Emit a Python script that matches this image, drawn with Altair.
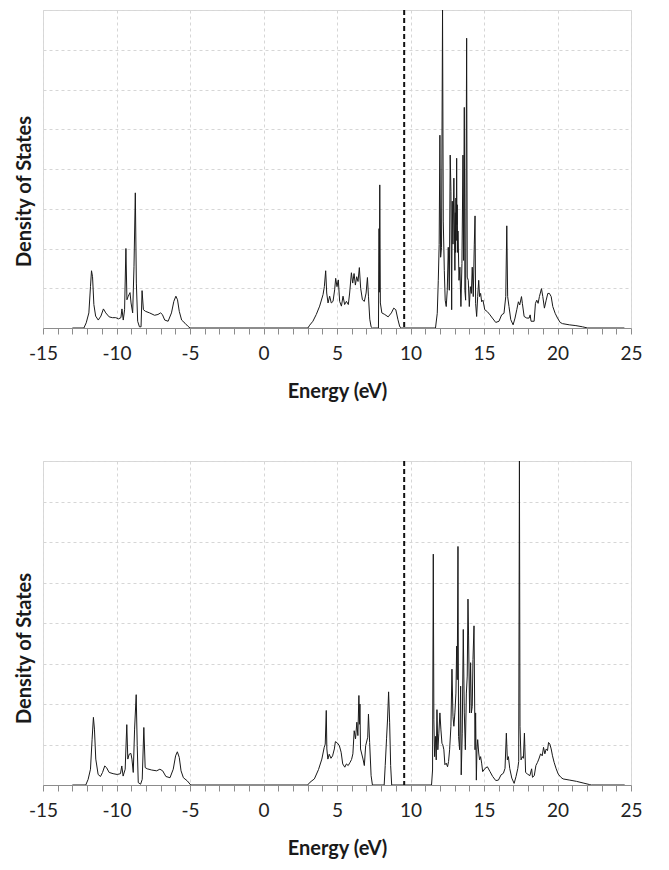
import altair as alt
import pandas as pd

# ---------------- data ----------------
E_TOP = [-13.0, -12.22, -12.06, -11.88, -11.77, -11.7, -11.63, -11.54, -11.42, -11.24, -11.06, -10.89,
         -10.73, -10.5, -10.28, -10.05, -9.86, -9.7, -9.63, -9.54, -9.45, -9.36, -9.29, -9.2, -9.08,
         -9.01, -8.9, -8.81, -8.72, -8.65, -8.56, -8.44, -8.33, -8.26, -8.17, -8.03, -7.75, -7.41,
         -7.18, -7.0, -6.88, -6.72, -6.49, -6.26, -6.1, -5.96, -5.85, -5.73, -5.57, -5.34, -5.16, -5.0,
         3.02, 3.14, 3.36, 3.59, 3.82, 4.05, 4.14, 4.23, 4.3, 4.39, 4.5, 4.61, 4.73, 4.84, 4.91, 5.0,
         5.09, 5.18, 5.3, 5.41, 5.52, 5.64, 5.77, 5.86, 5.98, 6.07, 6.16, 6.25, 6.34, 6.43, 6.52, 6.61,
         6.73, 6.86, 6.98, 7.07, 7.14, 7.23, 7.32, 7.41, 7.82, 7.86, 7.88, 7.91, 7.95, 8.05, 8.25,
         8.48, 8.7, 8.86, 9.0, 9.14, 9.27, 9.39,
         11.7, 11.82, 11.89, 11.95, 12.0, 12.05, 12.11, 12.18, 12.23, 12.3, 12.36, 12.43, 12.5, 12.57,
         12.64, 12.7, 12.75, 12.8, 12.84, 12.89, 12.95, 13.02, 13.05, 13.07, 13.09, 13.11, 13.14,
         13.16, 13.18, 13.21, 13.23, 13.3, 13.36, 13.43, 13.5, 13.57, 13.61, 13.66, 13.7, 13.75,
         13.82, 13.86, 13.93, 14.0, 14.07, 14.14, 14.2, 14.27, 14.34, 14.39, 14.43, 14.5, 14.57,
         14.64, 14.7, 14.77, 14.84, 14.93, 15.05, 15.23, 15.41, 15.57, 15.8, 16.02, 16.2, 16.36,
         16.48, 16.55, 16.61, 16.7, 16.82, 16.98, 17.11, 17.23, 17.34, 17.43, 17.55, 17.61, 17.73,
         17.91, 18.07, 18.14, 18.2, 18.41, 18.5, 18.59, 18.68, 18.77, 18.91, 19.0, 19.11, 19.23,
         19.34, 19.45, 19.57, 19.68, 19.84, 20.0, 20.18, 20.34, 20.8, 21.25, 21.7, 22.05, 24.55]
DOS_TOP = [0, 0, 0.13, 0.38, 1.04, 1.44, 1.29, 0.59, 0.3, 0.2, 0.3, 0.48,
           0.38, 0.28, 0.26, 0.26, 0.23, 0.26, 0.48, 0.2, 0.46, 2.0, 0.71, 0.8, 0.89,
           0.63, 0.38, 1.54, 3.4, 1.13, 0.17, 0.03, 0.03, 0.94, 0.46, 0.42, 0.38, 0.32,
           0.34, 0.38, 0.34, 0.2, 0.17, 0.38, 0.67, 0.8, 0.71, 0.42, 0.2, 0.12, 0.05, 0,
           0, 0.07, 0.17, 0.34, 0.55, 0.84, 1.04, 1.44, 0.88, 0.63, 0.8, 0.63, 0.67, 0.96, 1.25, 1.04,
           1.21, 0.67, 0.55, 0.8, 0.59, 0.67, 0.59, 0.88, 1.39, 1.13, 1.37, 1.08, 1.29, 1.17, 1.52, 1.0,
           0.71, 0.67, 0.88, 1.27, 0.8, 0.22, 0.03, 0, 0, 2.5, 0.9, 3.6, 0.63, 0.38, 0.34,
           0.28, 0.38, 0.5, 0.46, 0.22, 0.03, 0,
           0, 0.37, 1.2, 2.1, 4.85, 1.78, 2.03, 8.0, 2.69, 1.45, 0.7, 0.54, 0.95, 2.03,
           0.95, 4.35, 3.44, 0.46, 3.19, 2.11, 3.77, 1.45, 2.9, 1.9, 3.27, 2.2, 4.27,
           2.6, 3.1, 1.9, 2.44, 1.2, 1.53, 0.54, 1.62, 4.35, 1.7, 5.55, 0.95, 0.7,
           7.29, 1.28, 1.2, 0.54, 1.04, 0.87, 1.53, 0.79, 2.11, 2.82, 0.62, 0.29, 0.79,
           1.2, 0.79, 0.87, 0.66, 0.7, 0.46, 0.41, 0.33, 0.25, 0.14, 0.17, 0.33, 0.37,
           0.79, 2.57, 0.79, 0.54, 0.21, 0.08, 0.25, 0.46, 0.66, 0.58, 0.79, 0.62, 0.29,
           0.25, 0.25, 0.33, 0.17, 0.17, 0.62, 0.7, 0.62, 0.79, 0.99, 0.79, 0.5, 0.7,
           0.87, 0.87, 0.79, 0.54, 0.37, 0.25, 0.14, 0.11, 0.08, 0.06, 0.03, 0, 0]

E_BOT = [-13.0, -12.09, -11.93, -11.77, -11.66, -11.57, -11.5, -11.41, -11.25, -11.09, -10.95, -10.8,
         -10.68, -10.5, -10.23, -9.95, -9.73, -9.64, -9.55, -9.41, -9.3, -9.23, -9.14, -9.02, -8.95,
         -8.86, -8.77, -8.66, -8.59, -8.52, -8.36, -8.25, -8.14, -8.05, -7.91, -7.61, -7.27, -7.05,
         -6.86, -6.64, -6.36, -6.14, -5.98, -5.86, -5.73, -5.61, -5.45, -5.18, -4.95,
         3.0, 3.17, 3.46, 3.74, 3.97, 4.13, 4.2, 4.27, 4.31, 4.38, 4.47, 4.59, 4.7, 4.82, 4.89, 5.02,
         5.16, 5.28, 5.39, 5.53, 5.64, 5.76, 5.89, 5.99, 6.08, 6.17, 6.26, 6.35, 6.42, 6.49, 6.53,
         6.56, 6.6, 6.77, 6.86, 6.95, 7.09, 7.14, 7.22, 7.32, 7.41, 8.21, 8.28, 8.37, 8.44, 8.51,
         8.58, 8.65, 8.72,
         11.43, 11.5, 11.55, 11.59, 11.64, 11.7, 11.75, 11.8, 11.86, 11.93, 12.0, 12.07, 12.14, 12.2,
         12.27, 12.34, 12.43, 12.52, 12.59, 12.66, 12.75, 12.82, 12.89, 12.95, 13.02, 13.09, 13.14,
         13.18, 13.23, 13.27, 13.34, 13.41, 13.45, 13.52, 13.59, 13.66, 13.73, 13.8, 13.86, 13.91,
         13.95, 14.02, 14.09, 14.14, 14.2, 14.25, 14.32, 14.39, 14.43, 14.48, 14.52, 14.57, 14.64,
         14.7, 14.77, 14.84, 14.91, 15.07, 15.23, 15.41, 15.59, 15.8, 15.98, 16.16, 16.32, 16.43,
         16.52, 16.59, 16.66, 16.75, 16.89, 17.05, 17.18, 17.3, 17.36, 17.41, 17.45, 17.52, 17.61,
         17.68, 17.75, 17.83, 17.96, 18.12, 18.24, 18.3, 18.42, 18.53, 18.64, 18.73, 18.85, 18.96,
         19.05, 19.14, 19.23, 19.32, 19.39, 19.48, 19.57, 19.66, 19.77, 19.91, 20.05, 20.23, 20.38,
         20.84, 21.29, 21.74, 22.19, 22.3, 24.57]
DOS_BOT = [0, 0, 0.14, 0.39, 1.13, 1.67, 1.38, 0.64, 0.26, 0.21, 0.31, 0.47,
           0.43, 0.31, 0.28, 0.26, 0.28, 0.47, 0.22, 0.39, 1.49, 0.64, 0.76, 0.78, 0.64,
           0.31, 1.38, 2.23, 0.97, 0.06, 0.02, 0.14, 1.42, 0.43, 0.4, 0.37, 0.35, 0.39,
           0.35, 0.21, 0.18, 0.39, 0.72, 0.82, 0.68, 0.35, 0.18, 0.1, 0,
           0, 0.07, 0.15, 0.38, 0.64, 0.93, 1.01, 1.84, 0.89, 0.64, 0.76, 0.66, 0.72, 0.89, 1.07, 1.04,
           0.97, 0.81, 0.52, 0.44, 0.52, 0.48, 0.56, 0.63, 0.77, 1.34, 1.14, 1.55, 1.22, 2.21, 1.5,
           2.0, 0.89, 0.64, 0.48, 0.97, 1.18, 1.75, 1.05, 0.23, 0, 0, 0.48, 1.14, 1.63, 2.3,
           1.55, 0.48, 0,
           0, 0.37, 5.7, 1.61, 0.7, 1.2, 0.62, 1.86, 0.87, 1.28, 1.78, 1.36, 1.03, 0.99,
           0.87, 0.5, 0.54, 0.45, 0.58, 0.87, 1.45, 2.86, 1.69, 1.45, 1.78, 2.27, 3.43,
           2.6, 5.89, 1.2, 0.87, 2.44, 0.25, 1.28, 3.84, 1.78, 0.87, 2.27, 2.69, 4.59,
           3.68, 1.78, 3.02, 1.78, 1.94, 3.1, 3.93, 0.87, 1.78, 0.12, 0.87, 1.12, 0.79,
           0.62, 0.7, 0.54, 0.33, 0.41, 0.45, 0.33, 0.21, 0.11, 0.12, 0.25, 0.29, 0.41,
           1.28, 0.62, 0.7, 0.41, 0.17, 0.04, 0.21, 0.41, 0.58, 8.0, 1.45, 0.62, 0.7,
           0.66, 1.28, 0.31, 0.27, 0.23, 0.4, 0.19, 0.23, 0.48, 0.56, 0.64, 0.77, 0.72,
           0.93, 0.77, 0.89, 0.85, 1.05, 1.01, 0.89, 0.72, 0.56, 0.4, 0.27, 0.19, 0.15,
           0.12, 0.09, 0.05, 0.01, 0, 0]

FERMI = [9.57]
X_TICKS = list(range(-15, 26))
Y_GRID = list(range(0, 9))
X_TITLE = "Energy (eV)"
Y_TITLE = "Density of States"

FONT = "Lato"
W = 588


def panel(E, D, height, title_y):
    df = pd.DataFrame({"E": E, "DOS": D})
    fermi = pd.DataFrame({"E": FERMI})
    x = alt.X(
        "E:Q",
        scale=alt.Scale(domain=[-15, 25], nice=False, zero=False),
        axis=alt.Axis(
            values=X_TICKS,
            labelExpr="datum.value % 5 === 0 ? ('' + datum.value) : ''",
            labelOverlap=False,
            labelFlush=False,
            labelBound=False,
            labelFont=FONT,
            labelFontSize=19,
            labelColor="#222222",
            labelPadding=10,
            tickSize=6,
            tickColor="#8c8c8c",
            tickWidth=1,
            domainColor="#8c8c8c",
            domainWidth=1,
            grid=True,
            gridColor="#d6d6d6",
            gridDash=[3, 3],
            gridWidth=1,
            gridOpacity={"condition": {"test": "datum.value % 5 === 0", "value": 1}, "value": 0},
            title=X_TITLE,
            titleFont=FONT,
            titleFontSize=20,
            titleFontWeight="bold",
            titleColor="#1a1a1a",
            titlePadding=18,
        ),
    )
    y = alt.Y(
        "DOS:Q",
        scale=alt.Scale(domain=[0, 8], nice=False),
        axis=alt.Axis(
            values=Y_GRID,
            labels=False,
            ticks=False,
            domain=False,
            grid=True,
            gridColor="#d6d6d6",
            gridDash=[3, 3],
            gridWidth=1,
            title=Y_TITLE,
            titleFont=FONT,
            titleFontSize=20,
            titleFontWeight="bold",
            titleColor="#1a1a1a",
            titleAngle=270,
            titleAlign="center",
            titleBaseline="middle",
            titleX=-19,
            titleY=title_y,
        ),
    )
    line = alt.Chart(df).mark_line(color="#1a1a1a", strokeWidth=1, clip=True).encode(x=x, y=y)
    rule = alt.Chart(fermi).mark_rule(color="#111111", strokeWidth=2, strokeDash=[5, 3]).encode(x=x)
    return alt.layer(line, rule).properties(width=W, height=height)


top = panel(E_TOP, DOS_TOP, 318, 181)
bottom = panel(E_BOT, DOS_BOT, 324, 187)

chart = (
    alt.vconcat(top, bottom, spacing=57)
    .properties(padding={"left": 5, "top": 0, "right": 5, "bottom": 5}, background="white")
    .configure_view(stroke="#d9d9d9", strokeWidth=1)
)

chart.save("out.html", embed_options={"renderer": "svg", "actions": False})
